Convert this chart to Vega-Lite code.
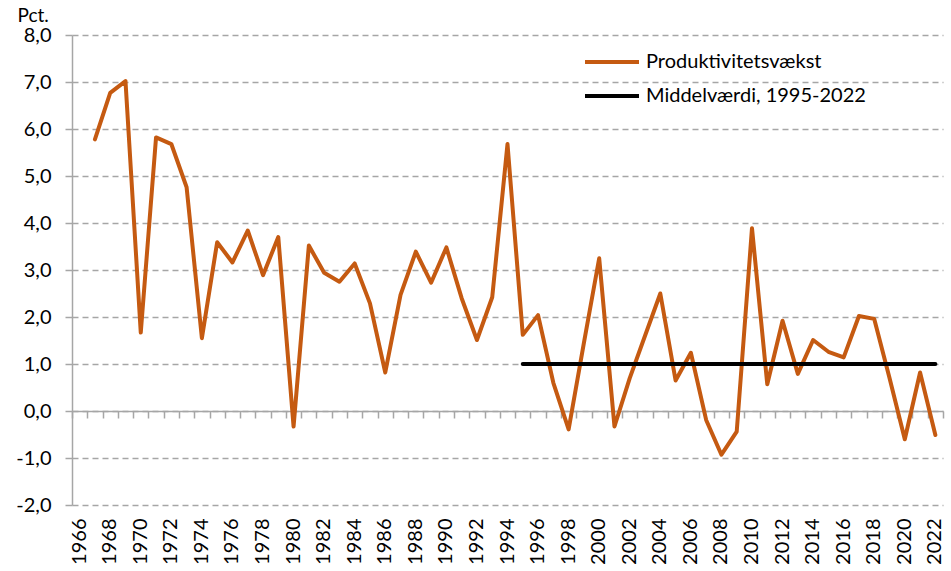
{
  "$schema": "https://vega.github.io/schema/vega-lite/v6.json",
  "width": 871,
  "height": 470,
  "autosize": "none",
  "padding": {"left": 72, "top": 35, "right": 8, "bottom": 66},
  "background": "white",
  "config": {
    "font": "Lato",
    "view": {"stroke": null},
    "axis": {"labelColor": "#000000", "labelFont": "Lato", "labelFontSize": 20, "titleFont": "Lato", "titleFontWeight": "normal", "titleColor": "#000000", "titleFontSize": 19},
    "legend": {"labelFont": "Lato", "labelFontSize": 20, "labelColor": "#000000"}
  },
  "data": {
    "values": [
      {"year": 1967, "series": "Produktivitetsvækst", "value": 5.78},
      {"year": 1968, "series": "Produktivitetsvækst", "value": 6.77},
      {"year": 1969, "series": "Produktivitetsvækst", "value": 7.02},
      {"year": 1970, "series": "Produktivitetsvækst", "value": 1.67},
      {"year": 1971, "series": "Produktivitetsvækst", "value": 5.82},
      {"year": 1972, "series": "Produktivitetsvækst", "value": 5.68},
      {"year": 1973, "series": "Produktivitetsvækst", "value": 4.76},
      {"year": 1974, "series": "Produktivitetsvækst", "value": 1.55},
      {"year": 1975, "series": "Produktivitetsvækst", "value": 3.59},
      {"year": 1976, "series": "Produktivitetsvækst", "value": 3.16},
      {"year": 1977, "series": "Produktivitetsvækst", "value": 3.84},
      {"year": 1978, "series": "Produktivitetsvækst", "value": 2.89},
      {"year": 1979, "series": "Produktivitetsvækst", "value": 3.70},
      {"year": 1980, "series": "Produktivitetsvækst", "value": -0.33},
      {"year": 1981, "series": "Produktivitetsvækst", "value": 3.52},
      {"year": 1982, "series": "Produktivitetsvækst", "value": 2.94},
      {"year": 1983, "series": "Produktivitetsvækst", "value": 2.75},
      {"year": 1984, "series": "Produktivitetsvækst", "value": 3.14},
      {"year": 1985, "series": "Produktivitetsvækst", "value": 2.29},
      {"year": 1986, "series": "Produktivitetsvækst", "value": 0.82},
      {"year": 1987, "series": "Produktivitetsvækst", "value": 2.47},
      {"year": 1988, "series": "Produktivitetsvækst", "value": 3.39},
      {"year": 1989, "series": "Produktivitetsvækst", "value": 2.73},
      {"year": 1990, "series": "Produktivitetsvækst", "value": 3.48},
      {"year": 1991, "series": "Produktivitetsvækst", "value": 2.40},
      {"year": 1992, "series": "Produktivitetsvækst", "value": 1.51},
      {"year": 1993, "series": "Produktivitetsvækst", "value": 2.42},
      {"year": 1994, "series": "Produktivitetsvækst", "value": 5.68},
      {"year": 1995, "series": "Produktivitetsvækst", "value": 1.62},
      {"year": 1996, "series": "Produktivitetsvækst", "value": 2.04},
      {"year": 1997, "series": "Produktivitetsvækst", "value": 0.60},
      {"year": 1998, "series": "Produktivitetsvækst", "value": -0.39},
      {"year": 1999, "series": "Produktivitetsvækst", "value": 1.45},
      {"year": 2000, "series": "Produktivitetsvækst", "value": 3.25},
      {"year": 2001, "series": "Produktivitetsvækst", "value": -0.33},
      {"year": 2002, "series": "Produktivitetsvækst", "value": 0.70},
      {"year": 2003, "series": "Produktivitetsvækst", "value": 1.60},
      {"year": 2004, "series": "Produktivitetsvækst", "value": 2.50},
      {"year": 2005, "series": "Produktivitetsvækst", "value": 0.65},
      {"year": 2006, "series": "Produktivitetsvækst", "value": 1.24},
      {"year": 2007, "series": "Produktivitetsvækst", "value": -0.19},
      {"year": 2008, "series": "Produktivitetsvækst", "value": -0.93},
      {"year": 2009, "series": "Produktivitetsvækst", "value": -0.44},
      {"year": 2010, "series": "Produktivitetsvækst", "value": 3.89},
      {"year": 2011, "series": "Produktivitetsvækst", "value": 0.57},
      {"year": 2012, "series": "Produktivitetsvækst", "value": 1.92},
      {"year": 2013, "series": "Produktivitetsvækst", "value": 0.79},
      {"year": 2014, "series": "Produktivitetsvækst", "value": 1.51},
      {"year": 2015, "series": "Produktivitetsvækst", "value": 1.26},
      {"year": 2016, "series": "Produktivitetsvækst", "value": 1.14},
      {"year": 2017, "series": "Produktivitetsvækst", "value": 2.02},
      {"year": 2018, "series": "Produktivitetsvækst", "value": 1.96},
      {"year": 2019, "series": "Produktivitetsvækst", "value": 0.70},
      {"year": 2020, "series": "Produktivitetsvækst", "value": -0.60},
      {"year": 2021, "series": "Produktivitetsvækst", "value": 0.82},
      {"year": 2022, "series": "Produktivitetsvækst", "value": -0.51},
      {"year": 1995, "series": "Middelværdi, 1995-2022", "value": 1.0},
      {"year": 1996, "series": "Middelværdi, 1995-2022", "value": 1.0},
      {"year": 1997, "series": "Middelværdi, 1995-2022", "value": 1.0},
      {"year": 1998, "series": "Middelværdi, 1995-2022", "value": 1.0},
      {"year": 1999, "series": "Middelværdi, 1995-2022", "value": 1.0},
      {"year": 2000, "series": "Middelværdi, 1995-2022", "value": 1.0},
      {"year": 2001, "series": "Middelværdi, 1995-2022", "value": 1.0},
      {"year": 2002, "series": "Middelværdi, 1995-2022", "value": 1.0},
      {"year": 2003, "series": "Middelværdi, 1995-2022", "value": 1.0},
      {"year": 2004, "series": "Middelværdi, 1995-2022", "value": 1.0},
      {"year": 2005, "series": "Middelværdi, 1995-2022", "value": 1.0},
      {"year": 2006, "series": "Middelværdi, 1995-2022", "value": 1.0},
      {"year": 2007, "series": "Middelværdi, 1995-2022", "value": 1.0},
      {"year": 2008, "series": "Middelværdi, 1995-2022", "value": 1.0},
      {"year": 2009, "series": "Middelværdi, 1995-2022", "value": 1.0},
      {"year": 2010, "series": "Middelværdi, 1995-2022", "value": 1.0},
      {"year": 2011, "series": "Middelværdi, 1995-2022", "value": 1.0},
      {"year": 2012, "series": "Middelværdi, 1995-2022", "value": 1.0},
      {"year": 2013, "series": "Middelværdi, 1995-2022", "value": 1.0},
      {"year": 2014, "series": "Middelværdi, 1995-2022", "value": 1.0},
      {"year": 2015, "series": "Middelværdi, 1995-2022", "value": 1.0},
      {"year": 2016, "series": "Middelværdi, 1995-2022", "value": 1.0},
      {"year": 2017, "series": "Middelværdi, 1995-2022", "value": 1.0},
      {"year": 2018, "series": "Middelværdi, 1995-2022", "value": 1.0},
      {"year": 2019, "series": "Middelværdi, 1995-2022", "value": 1.0},
      {"year": 2020, "series": "Middelværdi, 1995-2022", "value": 1.0},
      {"year": 2021, "series": "Middelværdi, 1995-2022", "value": 1.0},
      {"year": 2022, "series": "Middelværdi, 1995-2022", "value": 1.0}
    ]
  },
  "layer": [
    {
      "transform": [{"filter": "datum.series === 'Produktivitetsvækst'"}],
      "mark": {"type": "line", "strokeWidth": 4, "strokeJoin": "round", "strokeCap": "round"},
      "encoding": {
        "x": {
          "field": "year", "type": "ordinal",
          "scale": {"type": "band", "paddingInner": 0, "paddingOuter": 0,
            "domain": [1966,1967,1968,1969,1970,1971,1972,1973,1974,1975,1976,1977,1978,1979,1980,1981,1982,1983,1984,1985,1986,1987,1988,1989,1990,1991,1992,1993,1994,1995,1996,1997,1998,1999,2000,2001,2002,2003,2004,2005,2006,2007,2008,2009,2010,2011,2012,2013,2014,2015,2016,2017,2018,2019,2020,2021,2022]},
          "axis": {
            "orient": "bottom", "title": null,
            "values": [1966,1968,1970,1972,1974,1976,1978,1980,1982,1984,1986,1988,1990,1992,1994,1996,1998,2000,2002,2004,2006,2008,2010,2012,2014,2016,2018,2020,2022],
            "labelAngle": -90, "labelAlign": "right", "labelBaseline": "middle",
            "ticks": false, "domain": false, "grid": false, "labelPadding": 13
          }
        },
        "y": {
          "field": "value", "type": "quantitative",
          "scale": {"domain": [-2, 8], "nice": false, "zero": false},
          "axis": {
            "values": [-2,-1,0,1,2,3,4,5,6,7,8],
            "labelExpr": "replace(replace(format(datum.value, '.1f'), '.', ','), '\u2212', '-')",
            "domainColor": "#A6A6A6", "domainWidth": 1.5,
            "tickColor": "#A6A6A6", "tickWidth": 1.5, "tickSize": 7,
            "grid": true, "gridColor": "#A6A6A6", "gridWidth": 1.5, "gridDash": [6, 4],
            "labelPadding": 14,
            "title": "Pct.", "titleAngle": 0, "titleAlign": "left", "titleBaseline": "bottom",
            "titleX": -55, "titleY": -10
          }
        },
        "color": {
          "field": "series", "type": "nominal",
          "scale": {"domain": ["Produktivitetsvækst", "Middelværdi, 1995-2022"], "range": ["#C55A11", "#000000"]},
          "legend": {
            "title": null, "orient": "none", "legendX": 511, "legendY": 12,
            "symbolType": "stroke", "symbolSize": 2916, "symbolStrokeWidth": 4,
            "labelOffset": 5, "rowPadding": 4, "clipHeight": 30, "padding": 0, "labelLimit": 0
          }
        }
      }
    },
    {
      "transform": [{"filter": "datum.series !== 'Produktivitetsvækst'"}],
      "mark": {"type": "line", "strokeWidth": 4, "strokeCap": "round"},
      "encoding": {
        "x": {
          "field": "year", "type": "ordinal",
          "axis": {
            "orient": "bottom", "title": null, "offset": -94,
            "labels": false, "ticks": true, "tickBand": "extent", "tickSize": 7,
            "tickColor": "#A6A6A6", "tickWidth": 1.5,
            "domain": true, "domainColor": "#A6A6A6", "domainWidth": 1.5, "grid": false
          }
        },
        "y": {"field": "value", "type": "quantitative"},
        "color": {"field": "series", "type": "nominal"}
      }
    }
  ],
  "resolve": {"axis": {"x": "independent"}}
}
